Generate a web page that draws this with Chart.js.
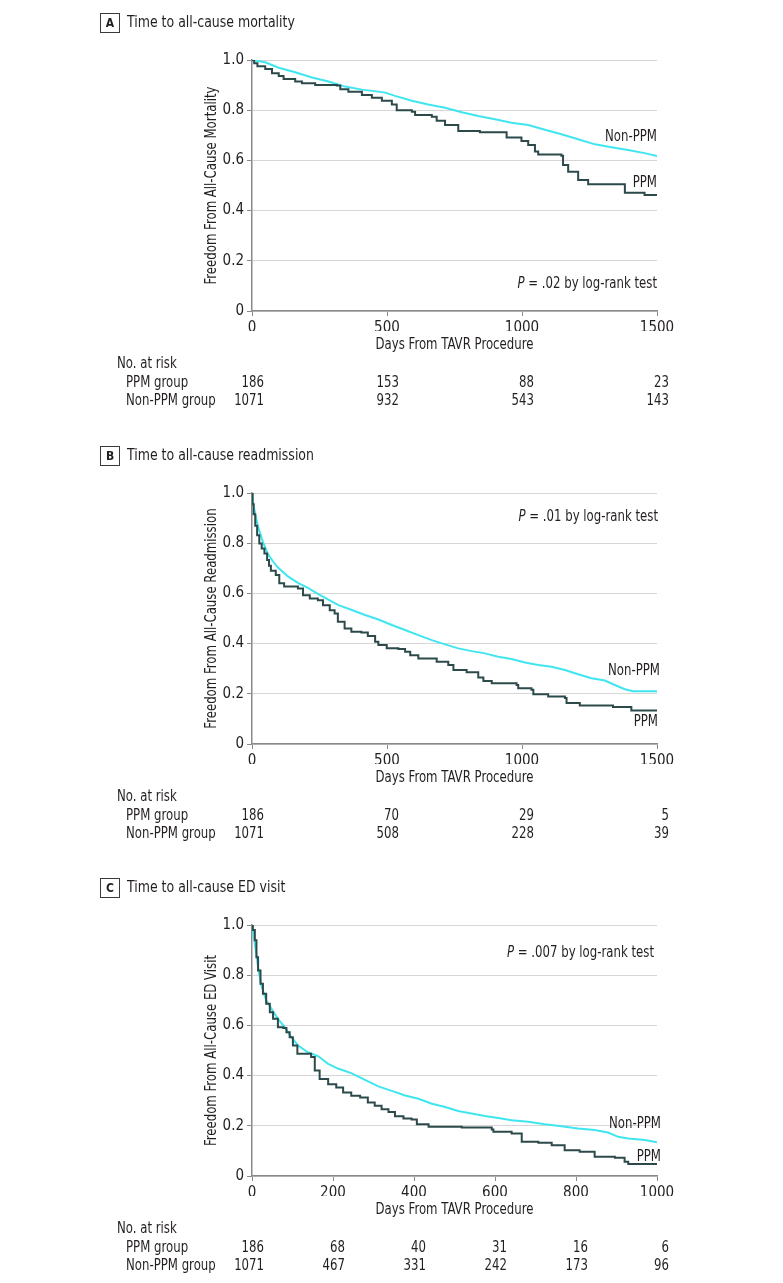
<html>
<head>
<script src="https://cdn.jsdelivr.net/npm/chart.js@4.4.1/dist/chart.umd.min.js"></script>
<style>
  body { margin: 0; background: #fff; }
  #wrap { position: relative; width: 783px; height: 1283px; overflow: hidden; }
  canvas { position: absolute; left: 0; }
</style>
</head>
<body>
<div id="wrap">
  <canvas id="chartA" width="783" height="418" style="top:0px"></canvas>
  <canvas id="chartB" width="783" height="418" style="top:433px"></canvas>
  <canvas id="chartC" width="783" height="418" style="top:865px"></canvas>
</div>
<script>
// ---- panel A: all-cause mortality ----
var daysA_ppm = [0, 8, 20, 49, 74, 99, 117, 160, 185, 234, 314, 327, 357, 407, 444, 481, 518, 536, 592, 604, 666, 684, 715, 764, 844, 943, 998, 1023, 1048, 1060, 1146, 1152, 1171, 1208, 1245, 1381, 1454, 1500];
var survA_ppm = [1.0, .987, .975, .964, .947, .936, .924, .914, .907, .900, .898, .883, .874, .861, .850, .838, .823, .800, .794, .781, .774, .758, .741, .717, .712, .691, .677, .661, .635, .624, .619, .582, .555, .522, .505, .471, .462, .462];
var daysA_non = [0, 49, 99, 160, 222, 283, 345, 407, 468, 493, 530, 592, 653, 715, 777, 838, 900, 961, 1023, 1085, 1146, 1208, 1270, 1331, 1393, 1454, 1500];
var survA_non = [1.0, .991, .969, .951, .930, .914, .894, .882, .874, .870, .857, .838, .823, .810, .792, .777, .764, .750, .741, .722, .704, .684, .664, .652, .641, .629, .617];
var riskTicksA = [0, 500, 1000, 1500];
var riskA_ppm = [186, 153, 88, 23];
var riskA_non = [1071, 932, 543, 143];

// ---- panel B: all-cause readmission ----
var daysB_ppm = [0, 2, 6, 12, 19, 27, 36, 46, 56, 63, 70, 88, 101, 119, 170, 189, 214, 244, 263, 288, 306, 318, 343, 368, 405, 429, 456, 468, 499, 542, 567, 586, 616, 684, 727, 746, 795, 838, 857, 888, 980, 986, 1035, 1042, 1097, 1159, 1165, 1214, 1337, 1405, 1500];
var survB_ppm = [1.0, .955, .915, .870, .832, .799, .779, .759, .733, .710, .690, .673, .640, .627, .620, .593, .580, .573, .553, .533, .520, .487, .460, .447, .444, .430, .407, .394, .381, .378, .368, .354, .341, .328, .315, .295, .286, .265, .251, .242, .235, .222, .216, .198, .189, .183, .163, .153, .147, .133, .133];
var daysB_non = [0, 3, 8, 14, 22, 31, 41, 59, 78, 96, 133, 170, 207, 244, 271, 320, 370, 419, 468, 518, 567, 616, 666, 715, 764, 814, 863, 912, 961, 1011, 1060, 1109, 1159, 1208, 1257, 1307, 1344, 1381, 1411, 1500];
var survB_non = [1.0, .970, .940, .905, .868, .836, .803, .757, .727, .703, .668, .642, .622, .598, .582, .553, .534, .514, .496, .474, .454, .434, .414, .397, .381, .370, .361, .348, .339, .325, .315, .308, .295, .278, .262, .253, .235, .218, .210, .210];
var riskTicksB = [0, 500, 1000, 1500];
var riskB_ppm = [186, 70, 29, 5];
var riskB_non = [1071, 508, 228, 39];

// ---- panel C: all-cause ED visit ----
var daysC_ppm = [0, 2, 7, 11, 15, 21, 27, 35, 44, 52, 64, 77, 85, 93, 101, 112, 146, 155, 167, 188, 208, 225, 245, 267, 286, 303, 320, 337, 353, 374, 394, 407, 436, 518, 592, 596, 641, 666, 707, 740, 772, 809, 846, 896, 920, 929, 1000];
var survC_ppm = [1.0, .980, .939, .872, .819, .766, .726, .686, .652, .626, .593, .590, .573, .553, .520, .487, .474, .420, .386, .366, .353, .333, .320, .313, .293, .280, .266, .255, .238, .229, .225, .206, .196, .193, .185, .176, .169, .136, .132, .123, .103, .097, .077, .073, .057, .048, .048];
var daysC_non = [0, 2, 7, 15, 23, 35, 48, 64, 81, 97, 114, 138, 163, 188, 212, 245, 279, 312, 345, 378, 411, 444, 477, 509, 542, 575, 608, 641, 682, 723, 764, 805, 846, 879, 904, 929, 970, 1000];
var survC_non = [1.0, .985, .926, .832, .759, .700, .666, .626, .593, .553, .520, .493, .478, .447, .428, .410, .383, .357, .339, .321, .308, .288, .275, .259, .249, .239, .231, .222, .216, .206, .198, .189, .183, .173, .156, .149, .143, .134];
var riskTicksC = [0, 200, 400, 600, 800, 1000];
var riskC_ppm = [186, 68, 40, 31, 16, 6];
var riskC_non = [1071, 467, 331, 242, 173, 96];

var FONT = '"Liberation Sans Narrow", "DejaVu Sans Condensed", sans-serif';
var TXT = '#231f20';
var PPM_COLOR = '#2d4a4b';
var NON_COLOR = '#3fe6ef';
var SX = 0.87; // squeeze text a little, the source face is narrow

function pts(xs, ys) {
  return xs.map(function (d, i) { return { x: d, y: ys[i] }; });
}

function txt(ctx, s, x, y, align) {
  ctx.save();
  ctx.translate(x, y);
  ctx.scale(SX, 1);
  ctx.textAlign = align;
  ctx.fillText(s, 0, 0);
  ctx.restore();
}

// titles, annotations and the risk table
var panelText = {
  id: 'panelText',
  afterDraw: function (chart, args, o) {
    var ctx = chart.ctx, a = chart.chartArea, xs = chart.scales.x, ys = chart.scales.y;
    ctx.save();
    ctx.fillStyle = TXT;
    ctx.textBaseline = 'middle';

    // letter box + panel title
    ctx.strokeStyle = '#3a3a3a';
    ctx.lineWidth = 1;
    ctx.strokeRect(100.5, 13.5, 19, 19);
    ctx.font = 'bold 12px ' + FONT;
    ctx.textAlign = 'center';
    ctx.fillText(o.letter, 110, 23.5);
    ctx.font = '16px ' + FONT;
    txt(ctx, o.title, 127, 23, 'left');

    // axis titles
    ctx.font = '15px ' + FONT;
    ctx.save();
    ctx.translate(212, (a.top + a.bottom) / 2);
    ctx.rotate(-Math.PI / 2);
    txt(ctx, o.yTitle, 0, 0, 'center');
    ctx.restore();
    txt(ctx, 'Days From TAVR Procedure', (a.left + a.right) / 2, a.bottom + 34, 'center');

    // P value, italic P
    var rest = ' = ' + o.pValue + ' by log-rank test';
    var w2 = ctx.measureText(rest).width * SX;
    var py = ys.getPixelForValue(o.pY);
    var pr = a.right + o.pDx;
    txt(ctx, rest, pr, py, 'right');
    ctx.font = 'italic 15px ' + FONT;
    txt(ctx, 'P', pr - w2, py, 'right');
    ctx.font = '15px ' + FONT;

    // curve labels
    txt(ctx, 'Non-PPM', a.right + o.nonDx, ys.getPixelForValue(o.nonY), 'right');
    txt(ctx, 'PPM', a.right + o.ppmDx, ys.getPixelForValue(o.ppmY), 'right');

    // number at risk
    txt(ctx, 'No. at risk', 117, a.bottom + 53, 'left');
    txt(ctx, 'PPM group', 126, a.bottom + 72, 'left');
    txt(ctx, 'Non-PPM group', 126, a.bottom + 90, 'left');
    o.riskTicks.forEach(function (t, i) {
      var px = xs.getPixelForValue(t) + 12;
      txt(ctx, String(o.riskPPM[i]), px, a.bottom + 72, 'right');
      txt(ctx, String(o.riskNon[i]), px, a.bottom + 90, 'right');
    });
    ctx.restore();
  }
};

function makeChart(id, cfg) {
  return new Chart(document.getElementById(id), {
    type: 'line',
    data: {
      datasets: [
        { label: 'PPM', data: cfg.ppm, borderColor: PPM_COLOR, borderWidth: 2, stepped: 'before', pointRadius: 0, fill: false },
        { label: 'Non-PPM', data: cfg.non, borderColor: NON_COLOR, borderWidth: 2, tension: 0, pointRadius: 0, fill: false }
      ]
    },
    options: {
      responsive: false,
      animation: false,
      events: [],
      layout: { padding: { left: 0, right: 126, top: 60, bottom: 87 } },
      plugins: {
        legend: { display: false },
        tooltip: { enabled: false },
        panelText: cfg.text
      },
      scales: {
        x: {
          type: 'linear', min: 0, max: cfg.xMax,
          afterFit: function (s) { s.height = 20; },
          border: { color: '#8a8a8a', width: 1.5 },
          grid: { drawOnChartArea: false, tickLength: 5, tickColor: '#8a8a8a' },
          ticks: {
            stepSize: cfg.xStep, color: TXT, font: { family: FONT, size: 15 }, maxRotation: 0,
            callback: function (v) { return String(v); }
          }
        },
        y: {
          min: 0, max: 1,
          afterFit: function (s) { s.width = 252; },
          border: { color: '#8a8a8a', width: 1.5 },
          grid: { color: '#d6d6d6', tickLength: 5, tickColor: '#8a8a8a' },
          ticks: {
            stepSize: 0.2, color: TXT, font: { family: FONT, size: 15 },
            callback: function (v) { return v === 0 ? '0' : v.toFixed(1); }
          }
        }
      }
    },
    plugins: [panelText]
  });
}

makeChart('chartA', {
  ppm: pts(daysA_ppm, survA_ppm), non: pts(daysA_non, survA_non), xMax: 1500, xStep: 500,
  text: {
    letter: 'A', title: 'Time to all-cause mortality', yTitle: 'Freedom From All-Cause Mortality',
    pValue: '.02', pY: 0.108, pDx: 0,
    nonY: 0.693, nonDx: 0, ppmY: 0.51, ppmDx: 0,
    riskTicks: riskTicksA, riskPPM: riskA_ppm, riskNon: riskA_non
  }
});

makeChart('chartB', {
  ppm: pts(daysB_ppm, survB_ppm), non: pts(daysB_non, survB_non), xMax: 1500, xStep: 500,
  text: {
    letter: 'B', title: 'Time to all-cause readmission', yTitle: 'Freedom From All-Cause Readmission',
    pValue: '.01', pY: 0.905, pDx: 1,
    nonY: 0.289, nonDx: 3, ppmY: 0.089, ppmDx: 1,
    riskTicks: riskTicksB, riskPPM: riskB_ppm, riskNon: riskB_non
  }
});

makeChart('chartC', {
  ppm: pts(daysC_ppm, survC_ppm), non: pts(daysC_non, survC_non), xMax: 1000, xStep: 200,
  text: {
    letter: 'C', title: 'Time to all-cause ED visit', yTitle: 'Freedom From All-Cause ED Visit',
    pValue: '.007', pY: 0.89, pDx: -3,
    nonY: 0.208, nonDx: 4, ppmY: 0.076, ppmDx: 4,
    riskTicks: riskTicksC, riskPPM: riskC_ppm, riskNon: riskC_non
  }
});
</script>
</body>
</html>
